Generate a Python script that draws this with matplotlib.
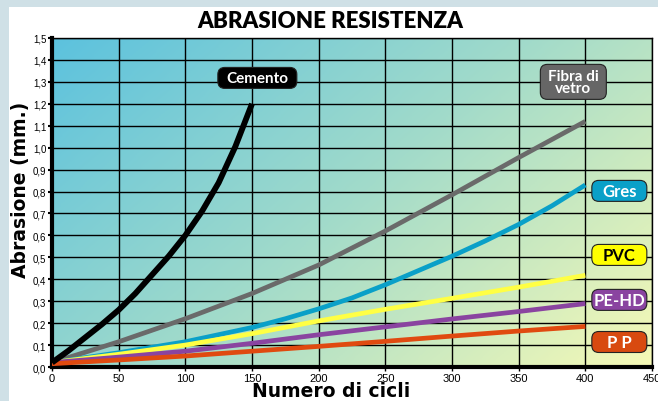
import numpy as np
import matplotlib
matplotlib.use("Agg")
import matplotlib.pyplot as plt
from matplotlib.colors import LinearSegmentedColormap
from matplotlib.patches import Rectangle, FancyBboxPatch
from matplotlib.transforms import IdentityTransform
from matplotlib.ticker import FuncFormatter, MultipleLocator

# ---- data ----
cem_x = [0, 12.5, 25, 37.5, 50, 62.5, 75, 87.5, 100, 112.5, 125, 137.5, 150]
cem_y = [0.02, 0.075, 0.135, 0.195, 0.26, 0.335, 0.42, 0.505, 0.60, 0.71, 0.84, 1.005, 1.20]
fib_x = [0, 50, 100, 150, 200, 250, 300, 350, 400]
fib_y = [0.02, 0.115, 0.22, 0.335, 0.465, 0.62, 0.785, 0.955, 1.12]
gres_x = [0, 50, 100, 150, 175, 200, 225, 250, 275, 300, 325, 350, 375, 400]
gres_y = [0.02, 0.065, 0.115, 0.18, 0.22, 0.265, 0.315, 0.375, 0.44, 0.505, 0.575, 0.65, 0.735, 0.83]
pvc_x = [0, 50, 100, 150, 200, 250, 300, 350, 400]
pvc_y = [0.02, 0.058, 0.10, 0.152, 0.21, 0.263, 0.313, 0.364, 0.418]
pe_x = [0, 50, 100, 150, 200, 250, 300, 350, 400]
pe_y = [0.02, 0.045, 0.072, 0.108, 0.147, 0.183, 0.219, 0.253, 0.289]
pp_x = [0, 50, 100, 150, 200, 250, 300, 350, 400]
pp_y = [0.015, 0.032, 0.05, 0.072, 0.094, 0.117, 0.141, 0.164, 0.185]

series = [
    ("Fibra di\nvetro", fib_x, fib_y, "#6a6a6a", 3.4),
    ("Gres", gres_x, gres_y, "#0aa0c8", 3.4),
    ("PVC", pvc_x, pvc_y, "#ffff44", 3.4),
    ("PE-HD", pe_x, pe_y, "#8a44a0", 3.4),
    ("PP", pp_x, pp_y, "#e04a10", 3.4),
    ("Cemento", cem_x, cem_y, "#000000", 4.2),
]

# label: text, x, y (data), box colour, text colour, font size, box w/h (px)
labels = [
    ("Cemento", 154, 1.318, "#000000", "white", 11, 79, 21),
    ("Fibra di\nvetro", 391, 1.30, "#666666", "white", 11, 66, 35),
    ("Gres", 425.5, 0.803, "#0aa0c8", "white", 12, 55, 21),
    ("PVC", 425.5, 0.511, "#ffff00", "black", 12, 55, 21),
    ("PE-HD", 425.5, 0.306, "#8a44a0", "white", 12, 55, 21),
    ("P P", 425.5, 0.114, "#d84a10", "white", 12, 55, 21),
]

W, H = 658, 402
fig = plt.figure(figsize=(W / 100, H / 100), dpi=100)
fig.patch.set_facecolor("#cfe0e6")
fig.patches.append(Rectangle((9 / W, 0), 1, 1 - 8 / H, transform=fig.transFigure,
                             facecolor="white", edgecolor="none", zorder=-10))

ax = fig.add_axes([52 / W, 1 - 368 / H, 600 / W, 329 / H])

# diagonal gradient background (top-left blue -> bottom-right pale yellow)
cmap = LinearSegmentedColormap.from_list("bg", ["#5cc2de", "#a2dbca", "#f6f9b6"])
nx, ny = 300, 200
u = np.linspace(0, 1, nx)[None, :]
v = np.linspace(0, 1, ny)[:, None]  # 0 at top row
grad = (u * 0.62 + v * 0.38)
ax.imshow(grad, cmap=cmap, extent=[0, 450, 0, 1.5], origin="upper", aspect="auto",
          zorder=0, interpolation="bilinear")
ax.set_xlim(0, 450)
ax.set_ylim(0, 1.5)

ax.xaxis.set_major_locator(MultipleLocator(50))
ax.yaxis.set_major_locator(MultipleLocator(0.1))
ax.grid(True, color="black", linewidth=1.0, zorder=1)
ax.set_axisbelow(False)

for name, xs, ys, col, lw in series:
    ax.plot(xs, ys, color=col, linewidth=lw, solid_capstyle="butt",
            solid_joinstyle="round", zorder=3)

for s in ["top", "right"]:
    ax.spines[s].set_linewidth(1.0)
ax.spines["left"].set_linewidth(3)
ax.spines["bottom"].set_linewidth(3)

tick_font = ["Liberation Sans Narrow", "Liberation Sans", "DejaVu Sans"]
ax.yaxis.set_major_formatter(FuncFormatter(lambda v, p: f"{v:.1f}".replace(".", ",")))
ax.tick_params(axis="y", length=3, width=1.5, pad=1, labelsize=7)
ax.tick_params(axis="x", length=3, width=1.0, pad=1, labelsize=8)
for t in ax.get_yticklabels() + ax.get_xticklabels():
    t.set_family(tick_font)

lab_font = ["Lato", "DejaVu Sans"]
for text, x, y, fc, tc, fs, bw, bh in labels:
    cx, cy = ax.transData.transform((x, y))
    box = FancyBboxPatch((cx - bw / 2 + 5, cy - bh / 2 + 5), bw - 10, bh - 10,
                         boxstyle="round,pad=5,rounding_size=7",
                         transform=IdentityTransform(), facecolor=fc,
                         edgecolor="#222222", linewidth=0.8, zorder=4,
                         clip_on=False)
    ax.add_artist(box)
    ax.text(x, y, text, ha="center", va="center", color=tc, fontsize=fs,
            fontweight="bold", family=lab_font, linespacing=0.8, zorder=5,
            clip_on=False)

fig.text(330 / W, 1 - 22 / H, "ABRASIONE RESISTENZA", ha="center", va="center",
         fontsize=16, fontweight="heavy", family=lab_font)
fig.text(331 / W, 1 - 392 / H, "Numero di cicli", ha="center", va="center",
         fontsize=13.5, fontweight="bold", family=["DejaVu Sans"])
fig.text(21 / W, 1 - 190 / H, "Abrasione (mm.)", ha="center", va="center",
         rotation=90, fontsize=13.5, fontweight="bold", family=["DejaVu Sans"])

fig.savefig("out.png", dpi=100, facecolor=fig.get_facecolor())
